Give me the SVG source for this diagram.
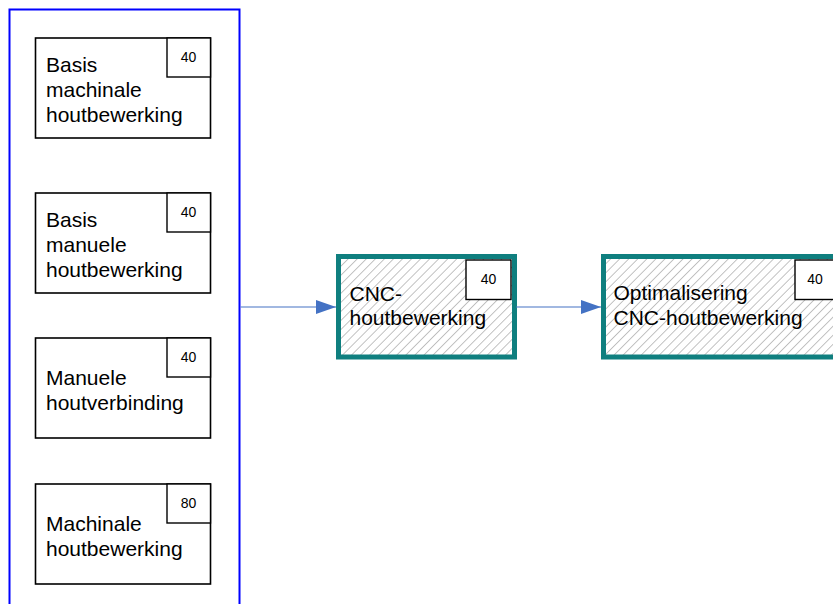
<svg xmlns="http://www.w3.org/2000/svg" width="833" height="604" viewBox="0 0 833 604">
<defs>
<pattern id="hatch" patternUnits="userSpaceOnUse" width="6.4" height="6.4" patternTransform="rotate(45)">
<rect width="6.4" height="6.4" fill="#ffffff"/>
<line x1="0" y1="0" x2="0" y2="6.4" stroke="#bcbcbc" stroke-width="1.8"/>
</pattern>
<marker id="arr" markerUnits="userSpaceOnUse" markerWidth="20" markerHeight="14" refX="20" refY="7" orient="auto">
<path d="M0,0 L20,7 L0,14 Z" fill="#4472c4"/>
</marker>
<style>
.box{fill:#ffffff;stroke:#000000;stroke-width:1.6}
.tag{fill:#ffffff;stroke:#000000;stroke-width:1.4}
.hbox{fill:url(#hatch);stroke:#0f7f7f;stroke-width:5}
.lbl{font-family:"Liberation Sans",Arial,sans-serif;font-size:21px;fill:#000000}
.num{font-family:"Liberation Sans",Arial,sans-serif;font-size:14px;fill:#000000;text-anchor:middle}
.conn{stroke:#4472c4;stroke-width:1.2;fill:none}
</style>
</defs>
<rect width="833" height="604" fill="#ffffff"/>
<g id="container">
<rect x="9.5" y="9.5" width="230" height="620" fill="none" stroke="#0000ff" stroke-width="2"/>
</g>
<g id="node1">
<rect class="box" x="35.5" y="38" width="175" height="100"/>
<rect class="tag" x="167" y="38" width="43.5" height="39"/>
<text class="num" x="188.5" y="62">40</text>
<text class="lbl" x="46" y="72">Basis</text>
<text class="lbl" x="46" y="97">machinale</text>
<text class="lbl" x="46" y="122">houtbewerking</text>
</g>
<g id="node2">
<rect class="box" x="35.5" y="193" width="175" height="100"/>
<rect class="tag" x="167" y="193" width="43.5" height="39"/>
<text class="num" x="188.5" y="217">40</text>
<text class="lbl" x="46" y="227">Basis</text>
<text class="lbl" x="46" y="252">manuele</text>
<text class="lbl" x="46" y="277">houtbewerking</text>
</g>
<g id="node3">
<rect class="box" x="35.5" y="338" width="175" height="100"/>
<rect class="tag" x="167" y="338" width="43.5" height="39"/>
<text class="num" x="188.5" y="362">40</text>
<text class="lbl" x="46" y="384.5">Manuele</text>
<text class="lbl" x="46" y="409.5">houtverbinding</text>
</g>
<g id="node4">
<rect class="box" x="35.5" y="484" width="175" height="100"/>
<rect class="tag" x="167" y="484" width="43.5" height="39"/>
<text class="num" x="188.5" y="508">80</text>
<text class="lbl" x="46" y="530.5">Machinale</text>
<text class="lbl" x="46" y="555.5">houtbewerking</text>
</g>
<g id="node5">
<rect class="hbox" x="338.5" y="256.5" width="176" height="100.5"/>
<rect class="tag" x="466" y="260" width="45" height="39.5"/>
<text class="num" x="488.5" y="284">40</text>
<text class="lbl" x="349.5" y="300.5">CNC-</text>
<text class="lbl" x="349.5" y="325">houtbewerking</text>
</g>
<g id="node6">
<rect class="hbox" x="603.5" y="256.5" width="260" height="100.5"/>
<rect class="tag" x="795" y="260" width="60" height="39.5"/>
<text class="num" x="815" y="284">40</text>
<text class="lbl" x="613.5" y="300">Optimalisering</text>
<text class="lbl" x="613.5" y="325">CNC-houtbewerking</text>
</g>
<g id="connectors">
<line class="conn" x1="240.5" y1="307" x2="336" y2="307" marker-end="url(#arr)"/>
<line class="conn" x1="516" y1="307" x2="601" y2="307" marker-end="url(#arr)"/>
</g>
</svg>
